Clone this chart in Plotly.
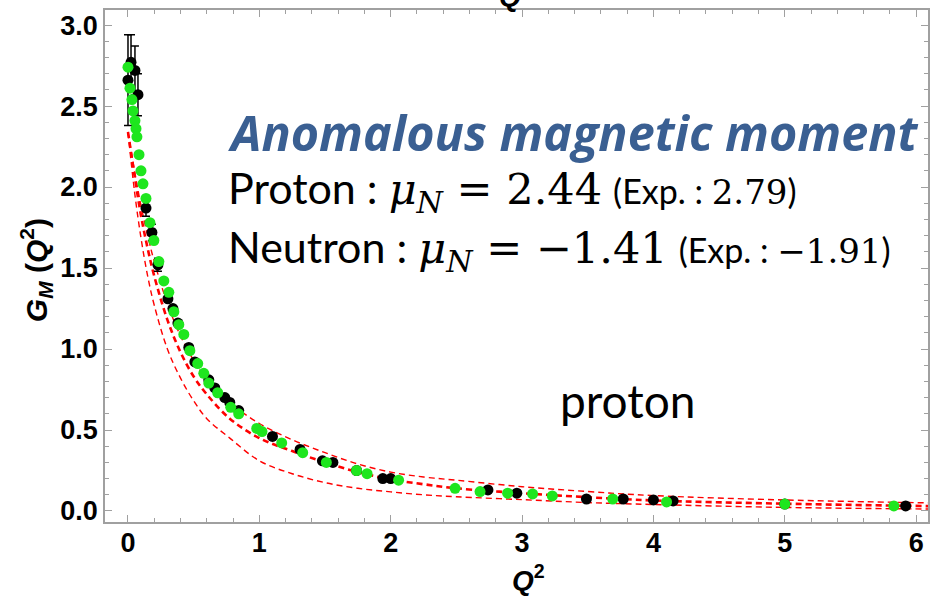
import plotly.graph_objects as go

# ---- data ----
black_q2 = [0.0, 0.023, 0.053, 0.076, 0.137, 0.182, 0.228, 0.304, 0.342, 0.380, 0.463, 0.509,
            0.615, 0.661, 0.737, 0.775, 0.843, 1.10, 1.31, 1.48, 1.56, 1.74, 1.94, 2.00,
            2.74, 2.96, 3.49, 3.77, 4.00, 4.15, 5.00, 5.92]
black_gm = [2.66, 2.77, 2.72, 2.57, 1.87, 1.72, 1.52, 1.31, 1.25, 1.16, 1.01, 0.92,
            0.81, 0.76, 0.70, 0.67, 0.62, 0.46, 0.38, 0.31, 0.30, 0.25, 0.20, 0.20,
            0.13, 0.11, 0.074, 0.074, 0.068, 0.062, 0.043, 0.031]
black_err = [0.28, 0.17, 0.15, 0.13, 0.05, 0.05, 0.04, 0.0, 0.0, 0.0, 0.0, 0.0,
             0.0, 0.0, 0.0, 0.0, 0.0, 0.0, 0.0, 0.0, 0.0, 0.0, 0.0, 0.0,
             0.0, 0.0, 0.0, 0.0, 0.0, 0.0, 0.0, 0.0]

green_q2 = [0.0, 0.015, 0.03, 0.038, 0.053, 0.061, 0.068, 0.084, 0.099, 0.114, 0.137, 0.167,
            0.197, 0.235, 0.273, 0.311, 0.349, 0.387, 0.425, 0.471, 0.531, 0.577, 0.615,
            0.683, 0.782, 0.843, 0.98, 1.02, 1.17, 1.33, 1.51, 1.74, 1.82, 2.06, 2.49,
            2.68, 2.89, 3.08, 3.23, 3.69, 4.10, 5.00, 5.83]
green_gm = [2.74, 2.61, 2.54, 2.47, 2.41, 2.36, 2.31, 2.20, 2.10, 2.02, 1.93, 1.78,
            1.67, 1.54, 1.42, 1.35, 1.23, 1.15, 1.09, 0.99, 0.91, 0.85, 0.79,
            0.73, 0.64, 0.60, 0.51, 0.49, 0.42, 0.36, 0.30, 0.25, 0.23, 0.19, 0.14,
            0.12, 0.11, 0.105, 0.093, 0.074, 0.056, 0.043, 0.031]

curve_q2 = [0.0, 0.05, 0.1, 0.15, 0.2, 0.3, 0.4, 0.5, 0.6, 0.775, 1.0, 1.25, 1.5, 1.75,
            2.0, 2.25, 2.5, 3.0, 3.5, 4.0, 5.0, 6.1]
curve_low = [2.34, 1.97, 1.68, 1.45, 1.27, 1.00, 0.82, 0.68, 0.57, 0.45, 0.31, 0.23, 0.175, 0.14,
             0.118, 0.10, 0.088, 0.070, 0.052, 0.040, 0.022, 0.012]
curve_mid = [2.34, 2.07, 1.82, 1.62, 1.45, 1.18, 0.98, 0.83, 0.72, 0.57, 0.45, 0.37, 0.30, 0.24,
             0.195, 0.165, 0.14, 0.11, 0.085, 0.065, 0.045, 0.030]
curve_up = [2.34, 2.10, 1.88, 1.70, 1.54, 1.28, 1.08, 0.93, 0.81, 0.67, 0.54, 0.44, 0.36, 0.29,
            0.24, 0.21, 0.19, 0.15, 0.12, 0.095, 0.068, 0.050]

x_ticks = [0, 1, 2, 3, 4, 5, 6]
y_ticks = [0.0, 0.5, 1.0, 1.5, 2.0, 2.5, 3.0]

fig = go.Figure()

for ys, w in [(curve_low, 1.4), (curve_mid, 2.6), (curve_up, 1.4)]:
    fig.add_trace(go.Scatter(x=curve_q2, y=ys, mode="lines",
                             line=dict(color="#ff0000", width=w, dash="6px,4px", shape="spline"),
                             hoverinfo="skip", showlegend=False))

fig.add_trace(go.Scatter(x=black_q2, y=black_gm, mode="markers",
                         marker=dict(color="black", size=11),
                         error_y=dict(type="data", array=black_err, visible=True,
                                      color="black", thickness=1.5, width=4),
                         showlegend=False))
fig.add_trace(go.Scatter(x=green_q2, y=green_gm, mode="markers",
                         marker=dict(color="#1ee61e", size=11),
                         showlegend=False))

tick_font = dict(family="Liberation Sans", size=27, color="black", weight=700)
fig.update_layout(
    xaxis=dict(range=[-0.175, 6.09], tickmode="array", tickvals=x_ticks,
               ticktext=[str(v) for v in x_ticks], tickfont=tick_font, ticklabelstandoff=-4,
               showline=True, linecolor="#a0a0a0", linewidth=1.5, mirror="allticks",
               ticks="inside", tickcolor="#a0a0a0", ticklen=7, tickwidth=1.2,
               showgrid=False, zeroline=False,
               minor=dict(dtick=0.2, ticks="inside", ticklen=4, tickcolor="#a0a0a0", showgrid=False)),
    yaxis=dict(range=[-0.068, 3.093], tickmode="array", tickvals=y_ticks,
               ticktext=[f"{v:.1f}" for v in y_ticks], tickfont=tick_font,
               showline=True, linecolor="#a0a0a0", linewidth=1.5, mirror="allticks",
               ticks="inside", tickcolor="#a0a0a0", ticklen=7, tickwidth=1.2,
               showgrid=False, zeroline=False,
               minor=dict(dtick=0.1, ticks="inside", ticklen=4, tickcolor="#a0a0a0", showgrid=False)),
)

def px_x(p):
    return (p - 105) / 825.0

def px_y(p):
    return (522 - p) / 512.0

SERIF = "DejaVu Serif"
ann = []
ann.append(dict(text="<b><i>Anomalous magnetic moment</i></b>", x=px_x(226), y=px_y(132),
                xanchor="left", yanchor="middle",
                font=dict(family="Open Sans", size=48.5, color="#3a5f92")))
ann.append(dict(text=f"Proton : <span style='font-family:{SERIF}'><i>μ</i><sub><i>N</i></sub> = 2.44</span>"
                     f" <span style='font-size:34px'>(Exp. : <span style='font-family:{SERIF}'>2.79</span>)</span>",
                x=px_x(226), y=px_y(191), xanchor="left", yanchor="middle",
                font=dict(family="Lato", size=43, color="black")))
ann.append(dict(text=f"Neutron : <span style='font-family:{SERIF}'><i>μ</i><sub><i>N</i></sub> = −1.41</span>"
                     f" <span style='font-size:34px'>(Exp. : <span style='font-family:{SERIF}'>−1.91</span>)</span>",
                x=px_x(226), y=px_y(250), xanchor="left", yanchor="middle",
                font=dict(family="Lato", size=43, color="black")))
ann.append(dict(text="proton", x=px_x(629), y=px_y(400), xanchor="center", yanchor="middle",
                font=dict(family="Lato", size=46, color="black")))
ann.append(dict(text="<b><i>G</i><sub><i>M</i></sub> (<i>Q</i><sup>2</sup>)</b>", x=px_x(36), y=px_y(270),
                xanchor="center", yanchor="middle", textangle=-90,
                font=dict(family="Liberation Sans", size=30, color="black")))
ann.append(dict(text="<b><i>Q</i><sup>2</sup></b>", x=px_x(530), y=px_y(578),
                xanchor="center", yanchor="middle",
                font=dict(family="Liberation Sans", size=28, color="black")))
ann.append(dict(text="<b><i>Q</i><sup>2</sup></b>", x=px_x(516), y=px_y(-6),
                xanchor="center", yanchor="middle",
                font=dict(family="Liberation Sans", size=28, color="black")))
for a in ann:
    a.update(xref="paper", yref="paper", showarrow=False)

fig.update_layout(width=932, height=599, margin=dict(l=105, r=2, t=10, b=77),
                  plot_bgcolor="white", paper_bgcolor="white", annotations=ann,
                  showlegend=False)

fig.write_html("out.html")
